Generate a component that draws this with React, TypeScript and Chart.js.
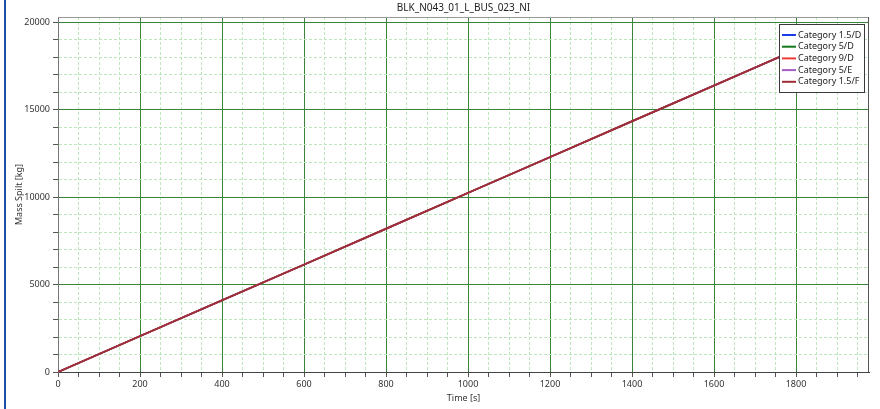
import React, { useEffect, useRef } from "react";
import { Chart, registerables } from "chart.js";

Chart.register(...registerables);

const chartTitle = "BLK_N043_01_L_BUS_023_NI";
const xAxisTitle = "Time [s]";
const yAxisTitle = "Mass Spilt [kg]";

const timeSeconds = [0, 200, 400, 600, 800, 1000, 1200, 1400, 1600, 1800];
const massCat15D = [0, 2050, 4100, 6140, 8190, 10240, 12290, 14340, 16380, 18430];
const massCat5D = [0, 2050, 4100, 6140, 8190, 10240, 12290, 14340, 16380, 18430];
const massCat9D = [0, 2050, 4100, 6140, 8190, 10240, 12290, 14340, 16380, 18430];
const massCat5E = [0, 2050, 4100, 6140, 8190, 10240, 12290, 14340, 16380, 18430];
const massCat15F = [0, 2050, 4100, 6140, 8190, 10240, 12290, 14340, 16380, 18430];

const seriesLabels = ["Category 1.5/D", "Category 5/D", "Category 9/D", "Category 5/E", "Category 1.5/F"];
const seriesValues = [massCat15D, massCat5D, massCat9D, massCat5E, massCat15F];
const seriesColors = ["#1a3ce8", "#12781a", "#f23a3a", "#a35ec4", "#a12d36"];

const xMin = 0;
const xMax = 1978;
const yMin = 0;
const yMax = 20300;
const xMajorStep = 200;
const xMinorStep = 50;
const yMajorStep = 5000;
const yMinorStep = 1000;

const FONT = "'Noto Sans', 'Open Sans', sans-serif";
const MAJOR_GRID = "#3a843a";
const MINOR_GRID = "#bde6bd";

const isMajor = (v: number, step: number) => Math.abs(v / step - Math.round(v / step)) < 1e-6;

const stepTicks = (min: number, max: number, step: number) => {
  const out: { value: number }[] = [];
  for (let v = Math.ceil(min / step) * step; v <= max + 1e-9; v += step) out.push({ value: v });
  return out;
};

const framePlugin = {
  id: "frameAndExtras",
  afterDatasetsDraw(chart: any) {
    const { ctx, chartArea } = chart;
    const { left, right, top, bottom } = chartArea;
    ctx.save();
    // frame
    ctx.strokeStyle = "#9a9a9a";
    ctx.lineWidth = 1;
    ctx.beginPath();
    ctx.moveTo(left + 0.5, top + 0.5);
    ctx.lineTo(right - 0.5, top + 0.5);
    ctx.stroke();
    ctx.strokeStyle = "#555555";
    ctx.beginPath();
    ctx.moveTo(right - 0.5, top);
    ctx.lineTo(right - 0.5, bottom);
    ctx.stroke();

    // legend box
    const bw = 86;
    const bh = 69;
    const bx = right - 4 - bw;
    const by = top + 7;
    ctx.fillStyle = "#ffffff";
    ctx.fillRect(bx, by, bw, bh);
    ctx.strokeStyle = "#3a3a3a";
    ctx.strokeRect(bx + 0.5, by + 0.5, bw - 1, bh - 1);
    ctx.font = `9px ${FONT}`;
    ctx.textBaseline = "middle";
    ctx.textAlign = "left";
    chart.data.datasets.forEach((ds: any, i: number) => {
      const y = by + 11 + i * 11.7;
      ctx.strokeStyle = ds.borderColor;
      ctx.lineWidth = 2;
      ctx.beginPath();
      ctx.moveTo(bx + 3, y);
      ctx.lineTo(bx + 17, y);
      ctx.stroke();
      ctx.fillStyle = "#222222";
      ctx.fillText(ds.label, bx + 19, y);
    });

    // chart title
    ctx.font = `10px ${FONT}`;
    ctx.textAlign = "center";
    ctx.textBaseline = "middle";
    ctx.fillStyle = "#222222";
    ctx.fillText(chart.options.plugins.customTitle.text, (left + right) / 2, 8);
    ctx.restore();
  },
};

export default function App() {
  const canvasRef = useRef<HTMLCanvasElement | null>(null);

  useEffect(() => {
    if (!canvasRef.current) return;
    const datasets = seriesLabels.map((label, i) => ({
      label,
      data: timeSeconds.map((t, j) => ({ x: t, y: seriesValues[i][j] })),
      borderColor: seriesColors[i],
      backgroundColor: seriesColors[i],
      borderWidth: i === seriesLabels.length - 1 ? 2 : 1.5,
      pointRadius: 0,
      fill: false,
      tension: 0,
      order: seriesLabels.length - i,
    }));

    const chart = new Chart(canvasRef.current, {
      type: "line",
      data: { datasets },
      plugins: [framePlugin],
      options: {
        responsive: false,
        animation: false,
        devicePixelRatio: 1,
        layout: { padding: { top: 17, right: 11, left: 0, bottom: 0 } },
        plugins: {
          legend: { display: false },
          title: { display: false },
          tooltip: { enabled: false },
          customTitle: { text: chartTitle },
        } as any,
        scales: {
          x: {
            type: "linear",
            min: xMin,
            max: xMax,
            afterBuildTicks: (s: any) => {
              s.ticks = stepTicks(xMin, xMax, xMinorStep);
            },
            afterFit: (s: any) => {
              s.height = 37;
            },
            ticks: {
              autoSkip: false,
              maxRotation: 0,
              padding: 2,
              color: "#333333",
              font: { family: FONT, size: 9 },
              callback: (v: any) => (isMajor(Number(v), xMajorStep) ? String(v) : ""),
            },
            grid: {
              color: (c: any) => (c.tick && isMajor(c.tick.value, xMajorStep) ? MAJOR_GRID : MINOR_GRID),
              tickColor: "#555555",
              tickLength: 5,
              lineWidth: 1,
            },
            border: {
              color: "#444444",
              width: 1,
              dash: (c: any) => (c.tick && !isMajor(c.tick.value, xMajorStep) ? [3, 2] : []),
            },
            title: {
              display: true,
              text: xAxisTitle,
              color: "#333333",
              font: { family: FONT, size: 9 },
              padding: { top: 0, bottom: 5 },
            },
          },
          y: {
            type: "linear",
            min: yMin,
            max: yMax,
            afterBuildTicks: (s: any) => {
              s.ticks = stepTicks(yMin, yMax, yMinorStep);
            },
            afterFit: (s: any) => {
              s.width = 58;
            },
            ticks: {
              autoSkip: false,
              padding: 3,
              color: "#333333",
              font: { family: FONT, size: 9 },
              callback: (v: any) => (isMajor(Number(v), yMajorStep) ? String(v) : ""),
            },
            grid: {
              color: (c: any) => (c.tick && isMajor(c.tick.value, yMajorStep) ? MAJOR_GRID : MINOR_GRID),
              tickColor: "#555555",
              tickLength: 5,
              lineWidth: 1,
            },
            border: {
              color: "#777777",
              width: 1,
              dash: (c: any) => (c.tick && !isMajor(c.tick.value, yMajorStep) ? [3, 2] : []),
            },
            title: {
              display: true,
              text: yAxisTitle,
              color: "#333333",
              font: { family: FONT, size: 9 },
              padding: { top: 14, bottom: 0 },
            },
          },
        },
      } as any,
    });

    return () => {
      chart.destroy();
    };
  }, []);

  return (
    <div style={{ position: "absolute", left: 0, top: 0, width: 880, height: 409, background: "#ffffff" }}>
      <canvas ref={canvasRef} width={880} height={409} style={{ display: "block" }} />
      <div style={{ position: "absolute", left: 4, top: 0, width: 2, height: 409, background: "#1d4fa8" }} />
    </div>
  );
}
